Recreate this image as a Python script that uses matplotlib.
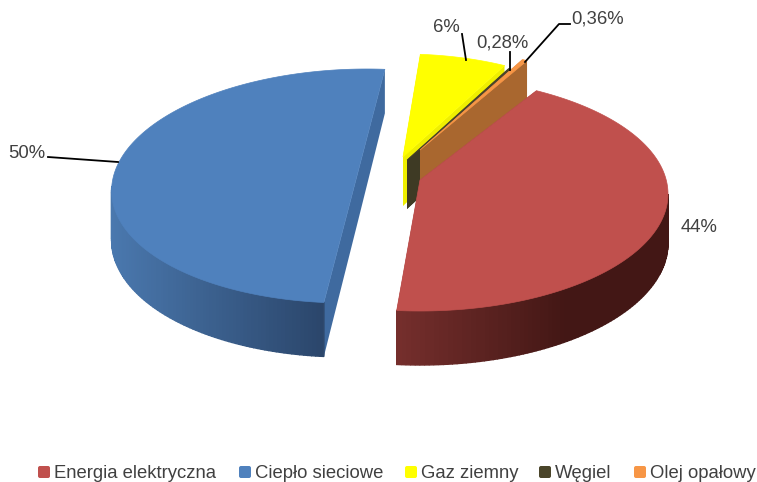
import numpy as np
import matplotlib.pyplot as plt
from matplotlib.colors import to_rgb
from matplotlib.patches import FancyBboxPatch, Polygon

plt.rcParams['font.family'] = ['Liberation Sans', 'DejaVu Sans']

# data
categories = ['Energia elektryczna', 'Ciepło sieciowe', 'Gaz ziemny', 'Węgiel', 'Olej opałowy']
values = [44, 50, 6, 0.28, 0.36]
value_labels = ['44%', '50%', '6%', '0,28%', '0,36%']

# styles
top_colors = ['#c0504d', '#4f81bd', '#ffff00', '#4a452a', '#f79646']
wall_colors = ['#6e2c2a', '#3f6a9f', '#efef00', '#3e3a24', '#a9672f']
arc_left = ['#762f2d', '#4a78ae', '#efef00', '#3e3a24', '#a9672f']
arc_right = ['#431715', '#2b466b', '#efef00', '#3e3a24', '#a9672f']
text_color = '#404040'

# layout, in pixels
apex_x = [420, 358, 403, 407, 420]
apex_y = [180, 172, 157, 160, 150]
radius_x = [248, 245, 234, 234, 228]
shear = [0, 0.085, 0, 0, 0]
draw_order = [2, 3, 4, 0, 1]
start_angle = 28
ry, shift = 117, 14
label_pos = [(681, 228), (8, 154), (433, 28), (476, 43), (571, 19)]
leaders = [None,
           [(48, 157), (118, 162)],
           [(462, 34), (466, 60)],
           [(510, 52), (510, 70)],
           [(570, 24), (559, 24), (525, 62)]]
legend_x = [38, 239, 405, 539, 634]
legend_y = 472


def rim(i, t):
    y = apex_y[i] + shift - ry * np.cos(t)
    return apex_x[i] + radius_x[i] * np.sin(t) - shear[i] * (y - apex_y[i]), y


def depth(t):
    return 49 - 5 * np.cos(t)


fig = plt.figure(figsize=(7.57, 4.82), dpi=100)
ax = fig.add_axes([0, 0, 1, 1])
ax.set_xlim(0, 757)
ax.set_ylim(482, 0)
ax.axis('off')

shares = np.array(values) / sum(values) * 360
ends = start_angle + np.cumsum(shares)
starts = ends - shares

for layer, i in enumerate(draw_order):
    t0, t1 = np.radians(starts[i]), np.radians(ends[i])
    cx, cy = apex_x[i], apex_y[i]

    # flat side walls
    for t in (t0, t1):
        ex, ey = rim(i, t)
        ax.add_patch(Polygon([(cx, cy), (ex, ey), (ex, ey + depth(t)), (cx, cy + 49)],
                             facecolor=wall_colors[i], edgecolor='none', zorder=1 + layer * 3))

    # outer wall, only the part facing the viewer
    lo, hi = max(t0, np.pi / 2), min(t1, 3 * np.pi / 2)
    if hi > lo:
        steps = np.linspace(lo, hi, 90)
        left, right = np.array(to_rgb(arc_left[i])), np.array(to_rgb(arc_right[i]))
        x_min = min(rim(i, s)[0] for s in steps)
        x_max = max(rim(i, s)[0] for s in steps)
        for a, b in zip(steps[:-1], steps[1:]):
            xa, ya = rim(i, a)
            xb, yb = rim(i, b)
            f = (xa - x_min) / (x_max - x_min)
            if i == 0:
                f = min(f * 1.6, 1)
            col = left + (right - left) * f
            ax.add_patch(Polygon([(xa, ya), (xb, yb), (xb, yb + depth(b)), (xa, ya + depth(a))],
                                 facecolor=col, edgecolor=col, linewidth=1.0,
                                 zorder=2 + layer * 3))

    # top face
    ts = np.linspace(t0, t1, 200)
    xs, ys = rim(i, ts)
    ax.add_patch(Polygon(np.column_stack([np.r_[cx, xs], np.r_[cy, ys]]),
                         facecolor=top_colors[i], edgecolor=top_colors[i], linewidth=0.5,
                         zorder=3 + layer * 3))

# value labels and leader lines
for i, lab in enumerate(value_labels):
    ax.text(label_pos[i][0], label_pos[i][1], lab, fontsize=13.35, color=text_color,
            ha='left', va='center', zorder=40)
    if leaders[i] is not None:
        ax.plot(*zip(*leaders[i]), color='black', linewidth=1.3, zorder=39)

# legend
for i, cat in enumerate(categories):
    ax.add_patch(FancyBboxPatch((legend_x[i] + 1, legend_y - 5), 10, 10,
                                boxstyle='round,pad=1,rounding_size=2',
                                facecolor=top_colors[i], edgecolor='none', zorder=40))
    ax.text(legend_x[i] + 16, legend_y + 1, cat, fontsize=13.35, color=text_color,
            ha='left', va='center', zorder=40)

fig.savefig('out.png', dpi=100)
